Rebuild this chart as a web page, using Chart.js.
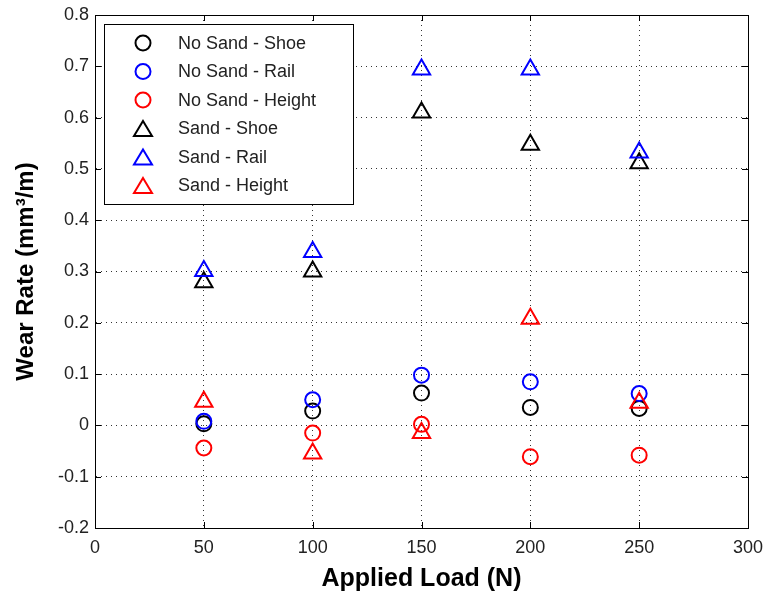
<!DOCTYPE html>
<html>
<head>
<meta charset="utf-8">
<title>Wear Rate vs Applied Load</title>
<script src="https://cdn.jsdelivr.net/npm/chart.js@4/dist/chart.umd.min.js"></script>
<style>
  body { margin: 0; background: #fff; }
  #wrap { width: 767px; height: 594px; }
</style>
</head>
<body>
<div id="wrap"><canvas id="chart" width="767" height="594"></canvas></div>
<script>
// applied load (N)
let loads = [50, 100, 150, 200, 250];

// wear rate (mm^3/m)
let noSandShoe   = [0.003, 0.028, 0.063, 0.035, 0.033];
let noSandRail   = [0.008, 0.050, 0.098, 0.085, 0.062];
let noSandHeight = [-0.044, -0.015, 0.002, -0.061, -0.058];
let sandShoe     = [0.279, 0.300, 0.610, 0.547, 0.511];
let sandRail     = [0.301, 0.338, 0.694, 0.694, 0.532];
let sandHeight   = [0.046, -0.055, -0.015, 0.208, 0.044];

let seriesNames = [
    "No Sand - Shoe",
    "No Sand - Rail",
    "No Sand - Height",
    "Sand - Shoe",
    "Sand - Rail",
    "Sand - Height"
];
let seriesValues = [noSandShoe, noSandRail, noSandHeight, sandShoe, sandRail, sandHeight];
let seriesColors = ["#000000", "#0000ff", "#ff0000", "#000000", "#0000ff", "#ff0000"];
let seriesMarkers = ["circle", "circle", "circle", "triangle", "triangle", "triangle"];

let xTicks = [0, 50, 100, 150, 200, 250, 300];
let yTicks = [-0.2, -0.1, 0, 0.1, 0.2, 0.3, 0.4, 0.5, 0.6, 0.7, 0.8];

function toPoints(vals)
{
    return vals.map(function(v, i) { return { x: loads[i], y: v }; });
}

function markerPath(ctx, style, x, y)
{
    ctx.beginPath();
    if (style == "circle")
    {
        ctx.arc(x, y, 7.5, 0, Math.PI * 2);
    }
    else
    {
        // legend triangle, centred on its box
        ctx.moveTo(x, y - 7.5);
        ctx.lineTo(x + 9, y + 7.5);
        ctx.lineTo(x - 9, y + 7.5);
        ctx.closePath();
    }
    ctx.stroke();
}

// box round the axes, inward tick marks and the legend
let framePlugin = {
    id: "frame",
    afterDraw: function(chart)
    {
        let ctx = chart.ctx;
        let a = chart.chartArea;
        let sx = chart.scales.x, sy = chart.scales.y;
        ctx.save();
        ctx.setLineDash([]);
        ctx.strokeStyle = "#000";
        ctx.lineWidth = 1;
        ctx.strokeRect(Math.round(a.left) + 0.5, Math.round(a.top) + 0.5,
                       Math.round(a.right - a.left), Math.round(a.bottom - a.top));

        ctx.beginPath();
        xTicks.forEach(function(t)
        {
            let px = Math.round(sx.getPixelForValue(t)) + 0.5;
            ctx.moveTo(px, a.bottom); ctx.lineTo(px, a.bottom - 6);
            ctx.moveTo(px, a.top); ctx.lineTo(px, a.top + 6);
        });
        yTicks.forEach(function(t)
        {
            let py = Math.round(sy.getPixelForValue(t)) + 0.5;
            ctx.moveTo(a.left, py); ctx.lineTo(a.left + 6, py);
            ctx.moveTo(a.right, py); ctx.lineTo(a.right - 6, py);
        });
        ctx.stroke();

        // legend
        let lx = Math.round(a.left) + 9, ly = Math.round(a.top) + 9, lw = 249, lh = 180;
        ctx.fillStyle = "#fff";
        ctx.fillRect(lx, ly, lw, lh);
        ctx.strokeStyle = "#000";
        ctx.lineWidth = 1;
        ctx.strokeRect(lx + 0.5, ly + 0.5, lw, lh);

        ctx.font = "18px 'Liberation Sans', Arial, sans-serif";
        ctx.textBaseline = "middle";
        ctx.textAlign = "left";
        for (let i = 0; i < seriesNames.length; i++)
        {
            let rowY = ly + 19 + i * 28.5;
            ctx.strokeStyle = seriesColors[i];
            ctx.lineWidth = 2;
            markerPath(ctx, seriesMarkers[i], lx + 39, rowY);
            ctx.fillStyle = "#222";
            ctx.fillText(seriesNames[i], lx + 74, rowY + 1);
        }
        ctx.restore();
    }
};

let datasets = [];
for (let i = 0; i < seriesNames.length; i++)
{
    datasets.push({
        label: seriesNames[i],
        data: toPoints(seriesValues[i]),
        showLine: false,
        pointStyle: seriesMarkers[i],
        pointRadius: seriesMarkers[i] == "circle" ? 7.5 : 10,
        pointHoverRadius: seriesMarkers[i] == "circle" ? 7.5 : 10,
        pointBorderWidth: 2,
        pointBorderColor: seriesColors[i],
        pointBackgroundColor: "rgba(0,0,0,0)",
        order: seriesNames.length - i
    });
}

let tickFont = { family: "'Liberation Sans', Arial, sans-serif", size: 18 };

let myChart = document.getElementById("chart").getContext("2d");
let display = new Chart(myChart,
{
    type: "scatter",
    data: { datasets: datasets },
    options:
    {
        responsive: false,
        animation: false,
        layout: { padding: { top: 15, right: 19, left: 0, bottom: 0 } },
        plugins:
        {
            legend: { display: false },
            tooltip: { enabled: false }
        },
        scales:
        {
            x:
            {
                type: "linear",
                min: 0,
                max: 300,
                afterFit: function(scale)
                {
                    scale.height = 66;
                    scale.paddingLeft = 0;
                    scale.paddingRight = 0;
                },
                afterBuildTicks: function(scale) { scale.ticks = xTicks.map(function(v) { return { value: v }; }); },
                ticks: { font: tickFont, color: "#222", padding: 9, maxRotation: 0 },
                grid: { color: "#333", lineWidth: 1, drawTicks: false },
                border: { display: true, color: "#000", dash: [1, 4] },
                title:
                {
                    display: true,
                    text: "Applied Load (N)",
                    font: { family: "'Liberation Sans', Arial, sans-serif", size: 25, weight: "bold" },
                    color: "#000",
                    padding: { top: 0, bottom: 0 }
                }
            },
            y:
            {
                type: "linear",
                min: -0.2,
                max: 0.8,
                afterFit: function(scale)
                {
                    scale.width = 95;
                    scale.paddingTop = 0;
                    scale.paddingBottom = 0;
                },
                afterBuildTicks: function(scale) { scale.ticks = yTicks.map(function(v) { return { value: v }; }); },
                ticks:
                {
                    font: tickFont,
                    color: "#222",
                    padding: 6,
                    callback: function(v) { return Math.abs(v) < 1e-9 ? "0" : Number(v).toFixed(1); }
                },
                grid: { color: "#333", lineWidth: 1, drawTicks: false },
                border: { display: true, color: "#000", dash: [1, 4] },
                title:
                {
                    display: true,
                    text: "Wear Rate (mm\u00b3/m)",
                    font: { family: "'Liberation Sans', Arial, sans-serif", size: 24, weight: "bold" },
                    color: "#000",
                    padding: { top: 12, bottom: 0 }
                }
            }
        }
    },
    plugins: [framePlugin]
});
</script>
</body>
</html>
